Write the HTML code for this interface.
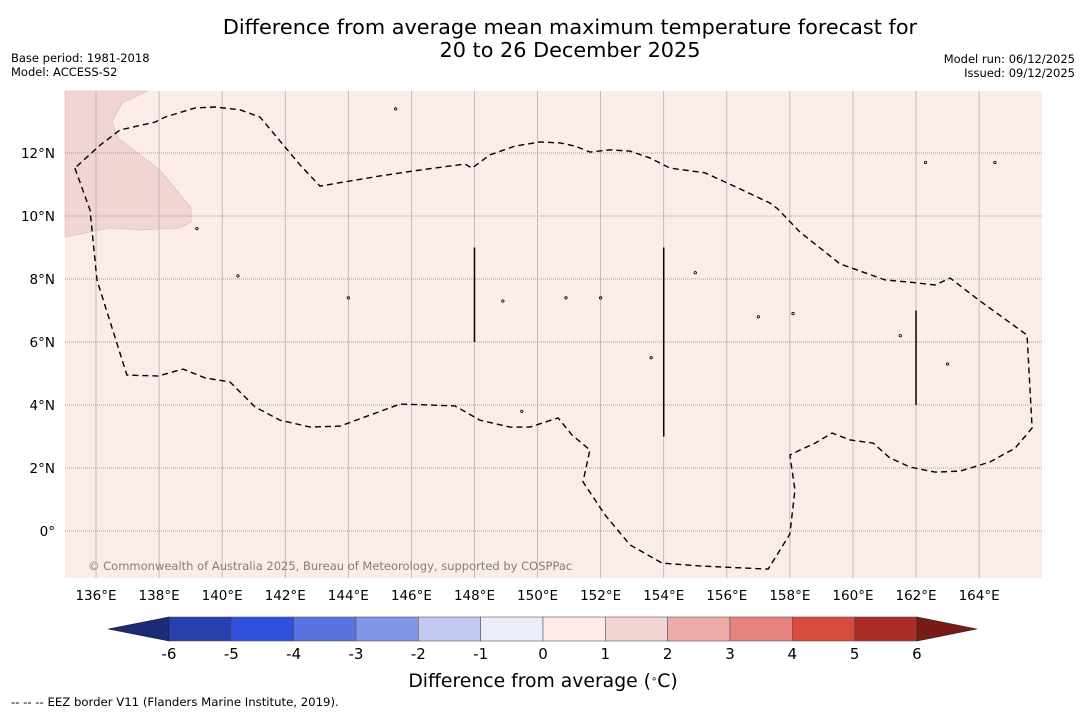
<!DOCTYPE html>
<html><head><meta charset="utf-8"><style>
body{margin:0;background:#fff;font-family:"DejaVu Sans","Liberation Sans",sans-serif}
svg text{font-family:"DejaVu Sans","Liberation Sans",sans-serif}
</style></head><body>
<svg id="c" width="1085" height="713" viewBox="0 0 1085 713" xmlns="http://www.w3.org/2000/svg">
<text x="570" y="34" font-size="20.8" text-anchor="middle">Difference from average mean maximum temperature forecast for</text>
<text x="570" y="57" font-size="20.8" text-anchor="middle">20 to 26 December 2025</text>
<text x="11" y="62" font-size="11.5">Base period: 1981-2018</text>
<text x="11" y="76" font-size="11.5">Model: ACCESS-S2</text>
<text x="1075" y="63" font-size="11.5" text-anchor="end">Model run: 06/12/2025</text>
<text x="1075" y="77" font-size="11.5" text-anchor="end">Issued: 09/12/2025</text>
<g id="map"></g>
<g id="cb"></g>
<text x="543" y="687" font-size="18.8" text-anchor="middle">Difference from average (<tspan baseline-shift="super" font-size="10">∘</tspan>C)</text>
<text x="11" y="706" font-size="11.7">--  --  -- EEZ border V11 (Flanders Marine Institute, 2019).</text>
</svg>
<script>
const lonTicks=[136,138,140,142,144,146,148,150,152,154,156,158,160,162,164];
const latTicks=[0,2,4,6,8,10,12];
const cbLevels=[-6,-5,-4,-3,-2,-1,0,1,2,3,4,5,6];
const cbColors=["#2840b0","#3050e0","#5a73e3","#8296e8","#c3caf3","#eaecf9","#fcebe9","#f2d5d2","#ecaba6","#e5837c","#d94a3f","#ac2b26"];
const eezLon=[135.33,135.81,136.03,136.98,137.97,138.76,139.46,140.25,141.04,141.83,142.79,143.74,144.69,145.64,146.59,147.38,148.17,149.12,149.76,150.65,151.09,151.66,151.44,152.14,152.93,153.95,155.15,156.42,157.31,158.00,158.16,158.00,158.32,158.80,159.34,159.91,160.64,161.17,161.81,162.60,163.39,164.34,165.14,165.68,165.52,164.03,163.08,162.60,161.81,161.02,159.59,158.32,157.62,157.37,156.42,155.31,154.20,153.57,152.93,152.30,151.66,151.19,150.71,150.08,149.28,148.49,147.92,147.70,146.27,145.00,143.10,142.47,141.20,140.57,139.77,139.14,138.19,137.87,136.76,136.13,135.33];
const eezLat=[11.52,10.19,7.97,4.95,4.92,5.14,4.86,4.73,3.94,3.52,3.30,3.33,3.68,4.03,4.00,3.97,3.52,3.30,3.30,3.59,3.05,2.57,1.56,0.51,-0.44,-1.02,-1.11,-1.17,-1.21,-0.10,1.30,2.41,2.57,2.79,3.11,2.89,2.79,2.32,2.03,1.87,1.90,2.19,2.63,3.27,6.22,7.30,8.03,7.81,7.90,7.97,8.48,9.49,10.22,10.41,10.86,11.37,11.52,11.84,12.06,12.10,12.03,12.22,12.32,12.35,12.22,11.94,11.52,11.65,11.46,11.27,10.95,11.62,13.14,13.37,13.46,13.43,13.14,12.98,12.73,12.25,11.52];
const lineLon=[148,154,162];
const lineLat0=[6,3,4];
const lineLat1=[9,9,7];
const islandLon=[145.5,152.0,155.0,157.0,161.5,163.0,158.1,150.9,153.6,148.9,144.0,139.2,140.5,162.3,164.5,149.5];
const islandLat=[13.4,7.4,8.2,6.8,6.2,5.3,6.9,7.4,5.5,7.3,7.4,9.6,8.1,11.7,11.7,3.8];
const NS="http://www.w3.org/2000/svg";
const X0=65,X1=1042,Y0=91,Y1=578;
const xL=lon=>96+(lon-136)*31.54;
const yL=lat=>531-lat*31.5;
function mk(t,a,p){const e=document.createElementNS(NS,t);for(const k in a)e.setAttribute(k,a[k]);p.appendChild(e);return e;}
const map=document.getElementById('map');
const bg=mk('rect',{x:X0,y:Y0,width:X1-X0,height:Y1-Y0,fill:'#fbebe9'},map);


const land=mk('path',{d:'M65,91 L148,91 L122,103 L112,122 L118,138 L160,170 L191,208 L191,222 L180,228 L140,230 L110,228 L90,232 L65,237 Z',fill:'#f0d5d3',stroke:'#dbb8b5','stroke-width':0.6},map);


lonTicks.forEach(l=>{const x=xL(l);
 const g=mk('line',{x1:x,x2:x,y1:Y0,y2:Y1,stroke:'#aaa','stroke-width':0.7},map);
 
 
 const t=mk('text',{x:x,y:600,'font-size':13.5,'text-anchor':'middle'},map);t.textContent=l+'°E';
 
 });
latTicks.forEach(l=>{const y=yL(l);
 const g=mk('line',{x1:X0,x2:X1,y1:y,y2:y,stroke:'#888','stroke-width':0.7,'stroke-dasharray':'1,1'},map);
 
 
 const t=mk('text',{x:55,y:y+5,'font-size':13.5,'text-anchor':'end'},map);t.textContent=l===0?'0°':l+'°N';
 
 });
islandLon.forEach((l,i)=>{const d=mk('circle',{cx:xL(l),cy:yL(islandLat[i]),r:1.2,fill:'none',stroke:'#000','stroke-width':0.8},map);
 
 });
const eez=mk('polyline',{points:eezLon.map((l,i)=>xL(l)+','+yL(eezLat[i])).join(' '),fill:'none',stroke:'#000','stroke-width':1.4,'stroke-dasharray':'6,4'},map);


lineLon.forEach((l,i)=>{const v=mk('line',{x1:xL(l),x2:xL(l),y1:yL(lineLat0[i]),y2:yL(lineLat1[i]),stroke:'#000','stroke-width':1.5},map);
 
 });
const cr=mk('text',{x:88,y:570,'font-size':11.5,fill:'#8a7a7a'},map);cr.textContent='© Commonwealth of Australia 2025, Bureau of Meteorology, supported by COSPPac';


const cb=document.getElementById('cb');
const cx=v=>169+(v+6)*62.33, CY0=617, CY1=641;
cbColors.forEach((c,i)=>{const r=mk('rect',{x:cx(cbLevels[i]),y:CY0,width:cx(cbLevels[i+1])-cx(cbLevels[i]),height:CY1-CY0,fill:c,stroke:'#555','stroke-width':0.6},cb);
 
 });
const tl=mk('polygon',{points:`${cx(-6)},${CY0} ${cx(-6)},${CY1} 108,629`,fill:'#1c2a78',stroke:'#222','stroke-width':0.6},cb);


const tr=mk('polygon',{points:`${cx(6)},${CY0} ${cx(6)},${CY1} 977,629`,fill:'#781c18',stroke:'#222','stroke-width':0.6},cb);


cbLevels.forEach(v=>{const t=mk('text',{x:cx(v),y:659,'font-size':15,'text-anchor':'middle'},cb);t.textContent=v;
 
 });
</script>
</body></html>
